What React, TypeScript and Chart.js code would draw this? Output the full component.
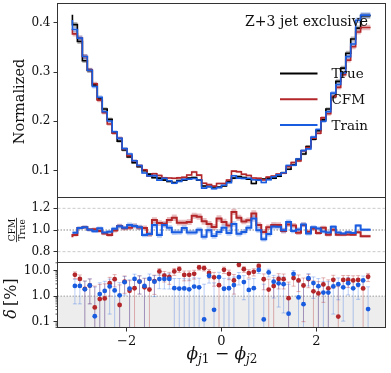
import React, { useEffect, useRef } from "react";
import { Chart, registerables } from "chart.js";
Chart.register(...registerables);

const FONT = "'DejaVu Serif', serif";
Chart.defaults.font.family = FONT;

// ---------------- data ----------------
const N_BINS = 60;
const PHI_MIN = -Math.PI;
const PHI_MAX = Math.PI;
const X_MIN = -3.456;
const X_MAX = 3.456;

const trueVals = [
  0.416, 0.396, 0.362, 0.323, 0.303, 0.274, 0.245, 0.225, 0.204, 0.177,
  0.160, 0.142, 0.128, 0.116, 0.108, 0.100, 0.093, 0.086, 0.085, 0.081,
  0.078, 0.076, 0.080, 0.081, 0.085, 0.086, 0.081, 0.069, 0.068, 0.067,
  0.067, 0.069, 0.078, 0.085, 0.088, 0.086, 0.083, 0.074, 0.081, 0.083,
  0.085, 0.085, 0.089, 0.096, 0.103, 0.112, 0.123, 0.134, 0.149, 0.164,
  0.181, 0.203, 0.225, 0.250, 0.281, 0.308, 0.338, 0.367, 0.389, 0.414,
];
const cfmVals = [
  0.3877, 0.3774, 0.3689, 0.3314, 0.3041, 0.2761, 0.2430, 0.2178, 0.1946, 0.1762,
  0.1659, 0.1443, 0.1306, 0.1203, 0.1104, 0.1018, 0.0894, 0.0939, 0.0904, 0.0856,
  0.0852, 0.0846, 0.0854, 0.0865, 0.0913, 0.0973, 0.0910, 0.0745, 0.0717, 0.0688,
  0.0741, 0.0741, 0.0812, 0.0992, 0.0979, 0.0928, 0.0904, 0.0852, 0.0847, 0.0815,
  0.0871, 0.0890, 0.0931, 0.0952, 0.1082, 0.1166, 0.1198, 0.1402, 0.1467, 0.1661,
  0.1758, 0.2071, 0.2153, 0.2504, 0.2689, 0.2948, 0.3241, 0.3512, 0.3812, 0.3904,
];
const trainVals = [
  0.4056, 0.3861, 0.3687, 0.3314, 0.3035, 0.2707, 0.2489, 0.2196, 0.2006, 0.1789,
  0.1656, 0.1448, 0.1340, 0.1203, 0.1107, 0.0953, 0.0896, 0.0900, 0.0810, 0.0848,
  0.0796, 0.0745, 0.0784, 0.0825, 0.0830, 0.0841, 0.0811, 0.0647, 0.0678, 0.0633,
  0.0657, 0.0704, 0.0759, 0.0897, 0.0849, 0.0845, 0.0847, 0.0818, 0.0809, 0.0760,
  0.0819, 0.0877, 0.0916, 0.0958, 0.1106, 0.1110, 0.1236, 0.1407, 0.1442, 0.1680,
  0.1835, 0.2002, 0.2196, 0.2573, 0.2748, 0.2981, 0.3312, 0.3569, 0.4049, 0.4153,
];
// relative statistical uncertainty of each bin, in %
const relErr = [
  1.4, 1.4, 1.4, 1.5, 1.5, 1.6, 1.7, 1.7, 1.8, 1.8,
  2.0, 2.0, 2.1, 2.1, 2.2, 2.2, 2.4, 2.4, 2.5, 2.5,
  2.5, 2.6, 2.5, 2.5, 2.5, 2.5, 2.5, 2.8, 2.8, 2.8,
  2.8, 2.8, 2.7, 2.5, 2.5, 2.5, 2.5, 2.7, 2.5, 2.5,
  2.5, 2.5, 2.4, 2.4, 2.2, 2.2, 2.1, 2.1, 2.0, 2.0,
  1.8, 1.8, 1.7, 1.7, 1.6, 1.5, 1.5, 1.4, 1.4, 1.4,
];
// uncertainty on delta, in %
const deltaErr = [
  2.0, 2.0, 2.0, 2.1, 2.1, 2.1, 2.2, 2.2, 2.3, 2.3,
  2.4, 2.4, 2.5, 2.5, 2.6, 2.6, 2.7, 2.7, 2.8, 2.8,
  2.8, 2.9, 2.8, 2.8, 2.8, 2.8, 2.8, 3.0, 3.0, 3.0,
  3.0, 3.0, 2.9, 2.8, 2.8, 2.8, 2.8, 2.9, 2.8, 2.8,
  2.8, 2.8, 2.7, 2.7, 2.6, 2.6, 2.5, 2.5, 2.4, 2.4,
  2.3, 2.3, 2.2, 2.2, 2.1, 2.1, 2.1, 2.0, 2.0, 2.0,
];

const xTicks = [-2, 0, 2];
const topTicks = [0.1, 0.2, 0.3, 0.4];
const ratioTicks = [0.8, 1.0, 1.2];
const ratioGuides = [0.8, 1.2];
const ratioUnity = 1.0;
const deltaTicks = [0.1, 1, 10];
const deltaMinor = [0.06, 0.07, 0.08, 0.09, 0.2, 0.3, 0.4, 0.5, 0.6, 0.7, 0.8, 0.9, 2, 3, 4, 5, 6, 7, 8, 9, 20];
const deltaThreshold = 1.0;
const seriesLabels = ["True", "CFM", "Train"];
const annotation = "Z+3 jet exclusive";

// ---------------- style / layout ----------------
const W = 391;
const H = 373;
const LEFT = 57.5;
const RIGHT = 385.5;
const TOP_PANEL = [3.5, 197.5];
const RATIO_PANEL = [197.5, 262.5];
const DELTA_PANEL = [262.5, 327.5];
const TOP_RANGE = [0.0457, 0.4389];
const RATIO_RANGE = [0.7, 1.3];
const DELTA_RANGE = [0.06, 20.5];
const LOG_FLOOR = 1e-4;

const BLACK = "#000000";
const RED = "#b3262a";
const BLUE = "#1a5ce0";
const BLACK_A = "rgba(0,0,0,0.28)";
const RED_A = "rgba(179,38,42,0.3)";
const BLUE_A = "rgba(26,92,224,0.3)";
const RED_E = "rgba(179,38,42,0.35)";
const BLUE_E = "rgba(26,92,224,0.30)";
const AXIS = "#333333";
const TEXT = "#111111";

const edges = Array.from({ length: N_BINS + 1 }, (_, i) => PHI_MIN + (i * (PHI_MAX - PHI_MIN)) / N_BINS);
const centers = Array.from({ length: N_BINS }, (_, i) => (edges[i] + edges[i + 1]) / 2);

const stepData = (vals: number[]) => [
  ...vals.map((v, i) => ({ x: edges[i], y: v })),
  { x: edges[N_BINS], y: vals[N_BINS - 1] },
];

const stepLine = (vals: number[], color: string, width: number, order: number) => ({
  type: "line",
  data: stepData(vals),
  stepped: "after",
  borderColor: color,
  borderWidth: width,
  pointRadius: 0,
  fill: false,
  order,
});
const bandPair = (up: number[], lo: number[], color: string, order: number) => [
  { type: "line", data: stepData(up), stepped: "after", borderWidth: 0, borderColor: "rgba(0,0,0,0)", pointRadius: 0, fill: "+1", backgroundColor: color, order },
  { type: "line", data: stepData(lo), stepped: "after", borderWidth: 0, borderColor: "rgba(0,0,0,0)", pointRadius: 0, fill: false, order },
];

const framePlugin = {
  id: "frame",
  afterDraw(chart: any) {
    const { ctx, chartArea: a } = chart;
    ctx.save();
    ctx.strokeStyle = AXIS;
    ctx.lineWidth = 1;
    ctx.strokeRect(a.left, a.top, a.right - a.left, a.bottom - a.top);
    ctx.restore();
  },
};

const yAxis = (range: number[], ticks: number[], fmt: (v: number) => string, type = "linear") => ({
  type,
  position: "left",
  min: range[0],
  max: range[1],
  afterBuildTicks(s: any) {
    s.ticks = ticks.map((v) => ({ value: v }));
  },
  afterFit(s: any) {
    s.width = LEFT;
    s.paddingTop = 0;
    s.paddingBottom = 0;
  },
  grid: { drawOnChartArea: false, drawTicks: true, tickLength: 4, color: AXIS, lineWidth: 1 },
  border: { display: false },
  ticks: { font: { family: FONT, size: 12 }, color: TEXT, padding: 3, autoSkip: false, callback: (v: any) => fmt(Number(v)) },
});

const hiddenX = { type: "linear", min: X_MIN, max: X_MAX, display: false };

const baseOptions = (panel: number[], bottomPad: number, scales: any) => ({
  animation: false,
  responsive: false,
  events: [],
  layout: { autoPadding: false, padding: { left: 0, right: W - RIGHT, top: panel[0], bottom: bottomPad } },
  plugins: { legend: { display: false }, tooltip: { enabled: false } },
  scales,
});

// ---------------- top panel ----------------
function topConfig(): any {
  const bands = [
    ...bandPair(trainVals.map((v, i) => v * (1 + relErr[i] / 100)), trainVals.map((v, i) => v * (1 - relErr[i] / 100)), BLUE_A, 5),
    ...bandPair(cfmVals.map((v, i) => v * (1 + relErr[i] / 100)), cfmVals.map((v, i) => v * (1 - relErr[i] / 100)), RED_A, 6),
    ...bandPair(trueVals.map((v, i) => v * (1 + relErr[i] / 100)), trueVals.map((v, i) => v * (1 - relErr[i] / 100)), BLACK_A, 7),
  ];
  const textPlugin = {
    id: "topText",
    afterDraw(chart: any) {
      const ctx = chart.ctx;
      ctx.save();
      ctx.fillStyle = TEXT;
      ctx.font = `14px ${FONT}`;
      ctx.textAlign = "right";
      ctx.textBaseline = "middle";
      ctx.fillText(annotation, 368, 22);
      const colors = [BLACK, RED, BLUE];
      seriesLabels.forEach((lab, i) => {
        const y = 73.5 + i * 25.8;
        ctx.strokeStyle = colors[i];
        ctx.lineWidth = 2;
        ctx.beginPath();
        ctx.moveTo(280, y);
        ctx.lineTo(317.5, y);
        ctx.stroke();
        ctx.fillStyle = TEXT;
        ctx.font = `13.5px ${FONT}`;
        ctx.textAlign = "left";
        ctx.fillText(lab, 331.5, y + 1);
      });
      ctx.translate(20, 101.5);
      ctx.rotate(-Math.PI / 2);
      ctx.textAlign = "center";
      ctx.font = `14.5px ${FONT}`;
      ctx.fillText("Normalized", 0, 0);
      ctx.restore();
    },
  };
  return {
    type: "line",
    data: {
      datasets: [
        stepLine(trainVals, BLUE, 1.6, 0),
        stepLine(cfmVals, RED, 1.6, 1),
        stepLine(trueVals, BLACK, 1.6, 2),
        ...bands,
      ],
    },
    options: baseOptions(TOP_PANEL, H - TOP_PANEL[1], {
      x: hiddenX,
      y: yAxis(TOP_RANGE, topTicks, (v) => v.toFixed(1)),
    }),
    plugins: [framePlugin, textPlugin],
  };
}

// ---------------- ratio panel ----------------
function ratioConfig(): any {
  const rc = cfmVals.map((v, i) => v / trueVals[i]);
  const rt = trainVals.map((v, i) => v / trueVals[i]);
  const hline = (v: number, color: string, dash: number[], width: number) => ({
    type: "line",
    data: [{ x: X_MIN, y: v }, { x: X_MAX, y: v }],
    borderColor: color,
    borderDash: dash,
    borderWidth: width,
    pointRadius: 0,
    fill: false,
    order: 20,
  });
  const textPlugin = {
    id: "ratioText",
    afterDraw(chart: any) {
      const ctx = chart.ctx;
      ctx.save();
      ctx.fillStyle = TEXT;
      ctx.translate(16.5, 230);
      ctx.rotate(-Math.PI / 2);
      ctx.font = `9px ${FONT}`;
      ctx.textAlign = "center";
      const w = Math.max(ctx.measureText(seriesLabels[1]).width, ctx.measureText(seriesLabels[0]).width) + 2;
      ctx.textBaseline = "alphabetic";
      ctx.fillText(seriesLabels[1], 0, -1.8);
      ctx.fillRect(-w / 2, -0.4, w, 0.8);
      ctx.textBaseline = "top";
      ctx.fillText(seriesLabels[0], 0, 1.2);
      ctx.restore();
    },
  };
  return {
    type: "line",
    data: {
      datasets: [
        stepLine(rt, BLUE, 2, 0),
        stepLine(rc, RED, 2, 1),
        ...bandPair(rt.map((v, i) => v * (1 + relErr[i] / 100)), rt.map((v, i) => v * (1 - relErr[i] / 100)), BLUE_A, 5),
        ...bandPair(rc.map((v, i) => v * (1 + relErr[i] / 100)), rc.map((v, i) => v * (1 - relErr[i] / 100)), RED_A, 6),
        ...ratioGuides.map((g) => hline(g, "#c4c4c4", [3, 2], 0.9)),
        hline(ratioUnity, "#8a8a8a", [1.5, 1.5], 1),
      ],
    },
    options: baseOptions(RATIO_PANEL, H - RATIO_PANEL[1], {
      x: hiddenX,
      y: yAxis(RATIO_RANGE, ratioTicks, (v) => v.toFixed(1)),
    }),
    plugins: [framePlugin, textPlugin],
  };
}

// ---------------- delta panel ----------------
function deltaConfig(): any {
  const dc = cfmVals.map((v, i) => Math.abs(v / trueVals[i] - 1) * 100);
  const dt = trainVals.map((v, i) => Math.abs(v / trueVals[i] - 1) * 100);
  const errSegs = (d: number[]) => {
    const out: any[] = [];
    d.forEach((v, i) => {
      const lo = v - deltaErr[i];
      out.push({ x: centers[i], y: lo > 0 ? lo : LOG_FLOOR }, { x: centers[i], y: v + deltaErr[i] }, { x: centers[i], y: null });
    });
    return out;
  };
  const caps = (d: number[]) => {
    const out: any[] = [];
    d.forEach((v, i) => {
      out.push({ x: centers[i], y: v + deltaErr[i] });
      if (v - deltaErr[i] > 0) out.push({ x: centers[i], y: v - deltaErr[i] });
    });
    return out;
  };
  const errLine = (d: number[], color: string, order: number) => ({
    type: "line",
    data: errSegs(d),
    borderColor: color,
    borderWidth: 1,
    pointRadius: 0,
    spanGaps: false,
    fill: false,
    order,
  });
  const capSet = (d: number[], color: string, order: number) => ({
    type: "scatter",
    data: caps(d),
    pointStyle: "line",
    pointRadius: 2,
    borderColor: color,
    backgroundColor: color,
    pointBorderWidth: 1,
    order,
  });
  const pts = (d: number[], color: string, order: number) => ({
    type: "scatter",
    data: d.map((v, i) => ({ x: centers[i], y: v })),
    pointStyle: "circle",
    pointRadius: 2.4,
    pointBorderWidth: 0,
    backgroundColor: color,
    borderColor: color,
    order,
  });
  const textPlugin = {
    id: "deltaText",
    afterDraw(chart: any) {
      const ctx = chart.ctx;
      const ys = chart.scales.y;
      ctx.save();
      ctx.strokeStyle = AXIS;
      ctx.lineWidth = 0.8;
      deltaMinor.forEach((v) => {
        if (v < DELTA_RANGE[0] || v > DELTA_RANGE[1]) return;
        const y = ys.getPixelForValue(v);
        ctx.beginPath();
        ctx.moveTo(LEFT - 2, y);
        ctx.lineTo(LEFT, y);
        ctx.stroke();
      });
      ctx.fillStyle = TEXT;
      ctx.save();
      ctx.translate(12, 298.5);
      ctx.rotate(-Math.PI / 2);
      ctx.textBaseline = "middle";
      ctx.font = `italic 16px ${FONT}`;
      const w1 = ctx.measureText("δ").width;
      ctx.font = `16px ${FONT}`;
      const w2 = ctx.measureText("[%]").width;
      const tot = w1 + 3 + w2;
      ctx.textAlign = "left";
      ctx.font = `italic 16px ${FONT}`;
      ctx.fillText("δ", -tot / 2, 0);
      ctx.font = `16px ${FONT}`;
      ctx.fillText("[%]", -tot / 2 + w1 + 3, 0);
      ctx.restore();
      const parts = [
        { t: "ϕ", f: `italic 17px ${FONT}`, dy: 0 },
        { t: "j", f: `italic 12px ${FONT}`, dy: 4 },
        { t: "1", f: `12px ${FONT}`, dy: 4 },
        { t: " − ", f: `17px ${FONT}`, dy: 0 },
        { t: "ϕ", f: `italic 17px ${FONT}`, dy: 0 },
        { t: "j", f: `italic 12px ${FONT}`, dy: 4 },
        { t: "2", f: `12px ${FONT}`, dy: 4 },
      ];
      let total = 0;
      const widths = parts.map((p) => {
        ctx.font = p.f;
        const w = ctx.measureText(p.t).width;
        total += w;
        return w;
      });
      let x = 222 - total / 2;
      ctx.textAlign = "left";
      ctx.textBaseline = "alphabetic";
      parts.forEach((p, i) => {
        ctx.font = p.f;
        ctx.fillText(p.t, x, 359 + p.dy);
        x += widths[i];
      });
      ctx.restore();
    },
  };
  return {
    type: "line",
    data: {
      datasets: [
        pts(dt, BLUE, 0),
        pts(dc, RED, 1),
        capSet(dt, BLUE_E, 2),
        capSet(dc, RED_E, 3),
        errLine(dt, BLUE_E, 4),
        errLine(dc, RED_E, 5),
        {
          type: "line",
          data: [{ x: X_MIN, y: deltaThreshold }, { x: X_MAX, y: deltaThreshold }],
          borderColor: "#9a9a9a",
          borderDash: [1.5, 1.5],
          borderWidth: 1,
          pointRadius: 0,
          fill: "start",
          backgroundColor: "#ededed",
          order: 20,
        },
      ],
    },
    options: baseOptions(DELTA_PANEL, 0, {
      x: {
        type: "linear",
        position: "bottom",
        min: X_MIN,
        max: X_MAX,
        afterBuildTicks(s: any) {
          s.ticks = xTicks.map((v) => ({ value: v }));
        },
        afterFit(s: any) {
          s.height = H - DELTA_PANEL[1];
          s.paddingLeft = 0;
          s.paddingRight = 0;
        },
        grid: { drawOnChartArea: false, drawTicks: true, tickLength: 4, color: AXIS, lineWidth: 1 },
        border: { display: false },
        ticks: {
          font: { family: FONT, size: 13 },
          color: TEXT,
          padding: 2,
          maxRotation: 0,
          autoSkip: false,
          callback: (v: any) => (Number(v) < 0 ? "\u2212" + Math.abs(Number(v)) : String(v)),
        },
      },
      y: yAxis(DELTA_RANGE, deltaTicks, (v) => v.toFixed(1), "logarithmic"),
    }),
    plugins: [framePlugin, textPlugin],
  };
}

export default function App() {
  const r1 = useRef<HTMLCanvasElement>(null);
  const r2 = useRef<HTMLCanvasElement>(null);
  const r3 = useRef<HTMLCanvasElement>(null);
  useEffect(() => {
    const charts = [
      new Chart(r1.current as HTMLCanvasElement, topConfig()),
      new Chart(r2.current as HTMLCanvasElement, ratioConfig()),
      new Chart(r3.current as HTMLCanvasElement, deltaConfig()),
    ];
    return () => charts.forEach((c) => c.destroy());
  }, []);
  const cs: React.CSSProperties = { position: "absolute", left: 0, top: 0, width: W, height: H };
  return (
    <div style={{ position: "fixed", left: 0, top: 0, width: W, height: H, background: "#ffffff" }}>
      <canvas ref={r1} width={W} height={H} style={cs} />
      <canvas ref={r2} width={W} height={H} style={cs} />
      <canvas ref={r3} width={W} height={H} style={cs} />
    </div>
  );
}
